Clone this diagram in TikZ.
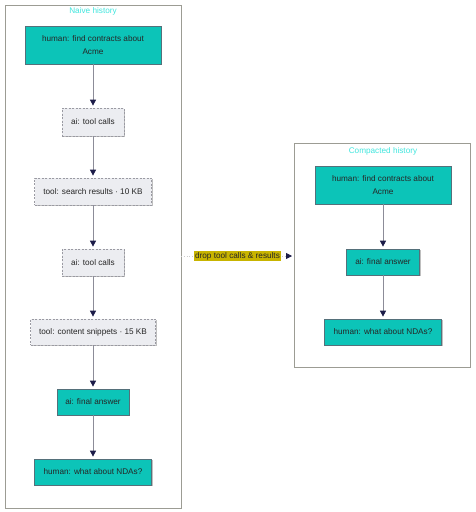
\documentclass[tikz,border=0pt]{standalone}
\usepackage{fontspec}
\setmainfont{Liberation Sans}
\usetikzlibrary{arrows.meta,shadows}
\definecolor{tealfill}{HTML}{0CC4B8}
\definecolor{tealdraw}{HTML}{55707A}
\definecolor{toolfill}{HTML}{ECEDF1}
\definecolor{tooldraw}{HTML}{9A9AA2}
\definecolor{edgegray}{HTML}{8C8C98}
\definecolor{tipnavy}{HTML}{1C1C48}
\definecolor{titlecyan}{HTML}{40E6DE}
\definecolor{labelolive}{HTML}{C8B400}
\definecolor{clusterdraw}{HTML}{9C9C94}
\begin{document}
\begin{tikzpicture}[x=1pt,y=-1pt,
  font=\fontsize{8.2}{12.3}\selectfont,
  basebox/.style={rectangle, inner sep=0pt, align=center, text=black!85,
    drop shadow={shadow xshift=1pt, shadow yshift=-1pt, opacity=0.25, fill=black}},
  tealbox/.style={basebox, fill=tealfill, draw=tealdraw, line width=0.7pt},
  toolbox/.style={basebox, fill=toolfill, draw=tooldraw, line width=0.7pt, dash pattern=on 2pt off 1.5pt},
  flow/.style={draw=edgegray, line width=0.8pt, shorten >=2pt,
    -{Triangle[width=6pt,length=6pt,fill=tipnavy,color=tipnavy]}},
  cluster/.style={draw=clusterdraw, line width=0.7pt, fill=white},
  ctitle/.style={text=titlecyan, inner sep=0pt}
]
\useasboundingbox (0,0) rectangle (476,512);
\fill[white] (0,0) rectangle (476,512);

% clusters
\draw[cluster] (5,5) rectangle (181,508);
\node[ctitle] (t1) at (93,11) {Naive history};
\draw[cluster] (294,143) rectangle (470,367);
\node[ctitle] (t2) at (383,151) {Compacted history};

\coordinate (lc) at (181,256);
\coordinate (rc) at (294,256);

% left column
\node[tealbox, minimum width=136pt, minimum height=38pt] (h1) at (93,45) {human: find contracts about\\Acme};
\node[toolbox, minimum width=62pt, minimum height=28pt] (a1) at (93,122) {ai: tool calls};
\node[toolbox, minimum width=117pt, minimum height=27pt] (s1) at (93,191.5) {tool: search results · 10 KB};
\node[toolbox, minimum width=62pt, minimum height=27pt] (a2) at (93,262.5) {ai: tool calls};
\node[toolbox, minimum width=125pt, minimum height=26pt] (s2) at (93,332) {tool: content snippets · 15 KB};
\node[tealbox, minimum width=72pt, minimum height=26pt] (f1) at (93,402) {ai: final answer};
\node[tealbox, minimum width=117pt, minimum height=26pt] (n1) at (93,472) {human: what about NDAs?};

% right column
\node[tealbox, minimum width=136pt, minimum height=38pt] (h2) at (383,185) {human: find contracts about\\Acme};
\node[tealbox, minimum width=73pt, minimum height=26pt] (f2) at (383,262) {ai: final answer};
\node[tealbox, minimum width=117pt, minimum height=26pt] (n2) at (383,332) {human: what about NDAs?};

% edges
\draw[flow] (h1) -- (a1);
\draw[flow] (a1) -- (s1);
\draw[flow] (s1) -- (a2);
\draw[flow] (a2) -- (s2);
\draw[flow] (s2) -- (f1);
\draw[flow] (f1) -- (n1);
\draw[flow] (h2) -- (f2);
\draw[flow] (f2) -- (n2);

\draw[draw=black!20, line width=0.8pt, dotted, shorten >=2pt,
  -{Triangle[width=6pt,length=6pt,fill=tipnavy,color=tipnavy]}] (lc) -- (rc)
  node[pos=0.5, fill=labelolive, text=black!85, inner xsep=1pt, inner ysep=1.5pt] (lbl) {drop tool calls \& results};
\end{tikzpicture}
\end{document}
